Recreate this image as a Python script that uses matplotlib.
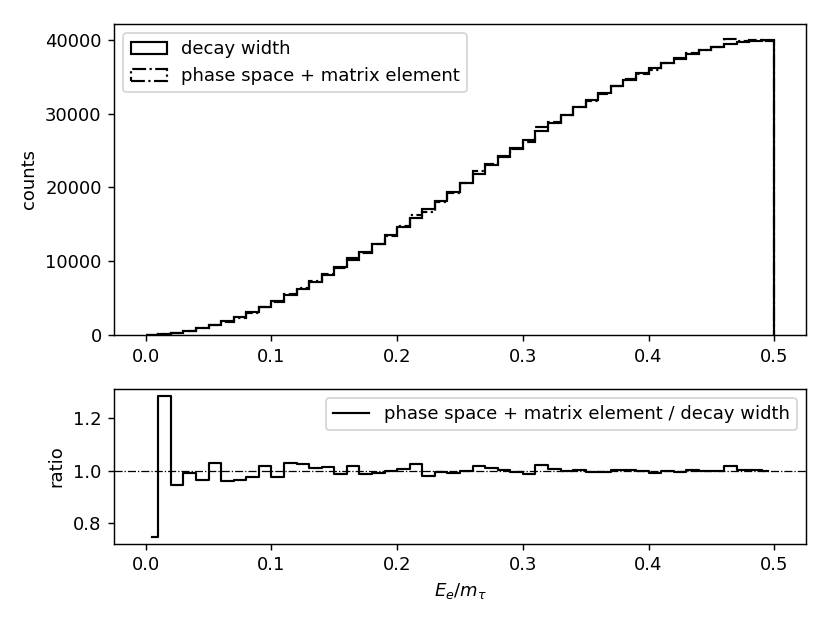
import numpy as np
import matplotlib
matplotlib.use("Agg")
import matplotlib.pyplot as plt

# 50 bins of width 0.01 on E_e/m_tau
bin_edges = np.linspace(0.0, 0.5, 51)

decay_width = [
    12, 106, 290, 561, 914, 1346, 1852, 2430, 3075, 3783,
    4551, 5375, 6250, 7173, 8141, 9149, 10193, 11270, 12376, 13506,
    14658, 15827, 17010, 18202, 19400, 20600, 21798, 22990, 24173, 25342,
    26494, 27624, 28730, 29807, 30851, 31859, 32827, 33750, 34625, 35449,
    36217, 36925, 37570, 38148, 38654, 39086, 39439, 39710, 39894, 39988,
]

phase_space_me = [
    9, 136, 274, 555, 881, 1386, 1778, 2340, 3004, 3851,
    4437, 5531, 6419, 7259, 8263, 9021, 10376, 11135, 12289, 13479,
    14746, 16254, 16687, 18093, 19264, 20600, 22190, 23243, 24246, 25215,
    26150, 28176, 28874, 29807, 30944, 31732, 32630, 33818, 34764, 35343,
    35927, 36925, 37420, 38262, 38654, 39008, 40149, 39829, 39974, 39868,
]


def main():
    plt.rcParams['font.family'] = 'DejaVu Sans'
    dpi = 130
    fig = plt.figure(figsize=(830 / dpi, 623 / dpi), dpi=dpi)
    ax1 = fig.add_axes([0.1377, 0.4623, 0.833, 0.4992])
    ax2 = fig.add_axes([0.1377, 0.1274, 0.833, 0.2482])

    centers = 0.5 * (bin_edges[:-1] + bin_edges[1:])
    d = np.array(decay_width, dtype=float)
    p = np.array(phase_space_me, dtype=float)

    ax1.hist(centers, bins=bin_edges, weights=d, histtype='step',
             color='k', linewidth=1.2, label='decay width')
    ax1.hist(centers, bins=bin_edges, weights=p, histtype='step',
             color='k', linewidth=1.2, linestyle='-.',
             label='phase space + matrix element')
    ax1.set_ylabel('counts')
    ax1.set_xlim(-0.025, 0.525)
    ax1.set_yticks([0, 10000, 20000, 30000, 40000])
    ax1.legend(loc='upper left')

    ratio = p / d
    ax2.step(centers, ratio, where='mid', color='k', linewidth=1.2,
             label='phase space + matrix element / decay width')
    ax2.axhline(1.0, color='k', linestyle='-.', linewidth=0.7)
    ax2.set_xlim(-0.025, 0.525)
    ax2.set_yticks([0.8, 1.0, 1.2])
    ax2.set_ylabel('ratio')
    ax2.set_xlabel(r'$E_e/m_\tau$')
    ax2.legend(loc='upper right')

    fig.savefig('out.png', dpi=dpi)


if __name__ == "__main__":
    main()
